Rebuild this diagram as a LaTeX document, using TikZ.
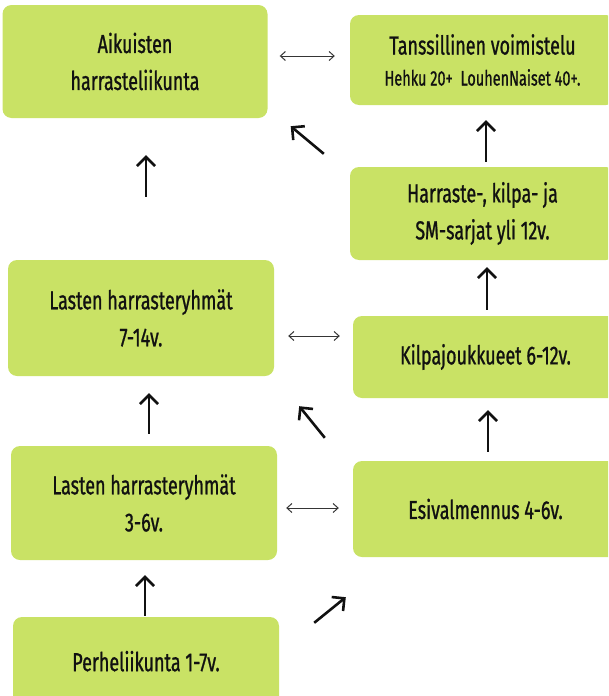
\documentclass[tikz,border=0pt]{standalone}
\usepackage{fontspec}
\setmainfont{Fira Sans}[FakeStretch=0.69,FakeBold=0.9]
\usetikzlibrary{arrows.meta,calc}
\definecolor{boxgreen}{RGB}{201,226,101}
\definecolor{inkc}{RGB}{17,17,17}
\tikzset{
  gbox/.style={fill=boxgreen, draw=none, rounded corners=9pt, align=center, text=inkc,
    font=\fontsize{26}{37}\selectfont, inner sep=0pt},
  uparrow/.style={draw=inkc, line width=2.6pt, -{Straight Barb[length=9pt,width=18pt,line width=2.6pt]}},
  dblarrow/.style={draw=inkc!85, line width=1pt, {Straight Barb[length=5pt,width=9pt]}-{Straight Barb[length=5pt,width=9pt]}}
}
\begin{document}
\begin{tikzpicture}[x=1pt,y=-1pt]
\useasboundingbox (0,0) rectangle (608,696);
\clip (0,0) rectangle (608,696);
% boxes
\node[gbox, minimum width=265pt, minimum height=113pt] (A) at (135,61.5) {Aikuisten\\harrasteliikunta};
\node[gbox, minimum width=265pt, minimum height=90pt] (T) at (482.5,60) {Tanssillinen voimistelu\\[-6pt]{\fontsize{21}{24}\selectfont Hehku 20+\ \ LouhenNaiset 40+.}};
\node[gbox, minimum width=265pt, minimum height=93pt] (H) at (482.5,213.5) {Harraste-, kilpa- ja\\SM-sarjat yli 12v.};
\node[gbox, minimum width=266pt, minimum height=116pt] (L7) at (141,318) {Lasten harrasteryhmät\\7-14v.};
\node[gbox, minimum width=265pt, minimum height=82pt] (K) at (485.5,357) {Kilpajoukkueet 6-12v.};
\node[gbox, minimum width=266pt, minimum height=114pt] (L3) at (144,503) {Lasten harrasteryhmät\\3-6v.};
\node[gbox, minimum width=265pt, minimum height=96pt] (E) at (485.5,509) {Esivalmennus 4-6v.};
\node[gbox, minimum width=266pt, minimum height=93pt] (P) at (146,663.5) {\raisebox{5pt}{Perheliikunta 1-7v.}};
% diagonal arrow end points
\coordinate (d1s) at ($(H.north west)+(-26,-13)$);
\coordinate (d1e) at ($(A.south east)+(23,8)$);
\coordinate (d2s) at ($(E.north west)+(-28,-23)$);
\coordinate (d2e) at ($(L7.south east)+(25,30)$);
\coordinate (d3s) at ($(P.north east)+(35,6)$);
\coordinate (d3e) at ($(E.south west)+(-7,40)$);
% vertical arrows
\draw[uparrow, shorten <=63pt, shorten >=37pt] ([xshift=5pt]L7.north) -- ([xshift=5pt]L7.north |- A.south);
\draw[uparrow, shorten <=5pt, shorten >=15pt] ([xshift=3.5pt]H.north) -- ([xshift=3.5pt]H.north |- T.south);
\draw[uparrow, shorten <=6pt, shorten >=7pt] ([xshift=1.5pt]K.north) -- ([xshift=1.5pt]K.north |- H.south);
\draw[uparrow, shorten <=9pt, shorten >=12pt] ([xshift=2.5pt]E.north) -- ([xshift=2.5pt]E.north |- K.south);
\draw[uparrow, shorten <=12pt, shorten >=17pt] ([xshift=5pt]L3.north) -- ([xshift=5pt]L3.north |- L7.south);
\draw[uparrow, shorten <=1pt, shorten >=15pt] ([xshift=-1pt]P.north) -- ([xshift=-1pt]P.north |- L3.south);
% diagonal arrows
\draw[uparrow] (d1s) -- (d1e);
\draw[uparrow] (d2s) -- (d2e);
\draw[uparrow] (d3s) -- (d3e);
% double arrows
\draw[dblarrow, shorten <=12pt, shorten >=15pt] ([yshift=5.5pt]A.east) -- ([yshift=5.5pt]A.east -| T.west);
\draw[dblarrow, shorten <=14pt, shorten >=13pt] ([yshift=-18pt]L7.east) -- ([yshift=-18pt]L7.east -| K.west);
\draw[dblarrow, shorten <=9pt, shorten >=14pt] ([yshift=-5pt]L3.east) -- ([yshift=-5pt]L3.east -| E.west);
\end{tikzpicture}
\end{document}
